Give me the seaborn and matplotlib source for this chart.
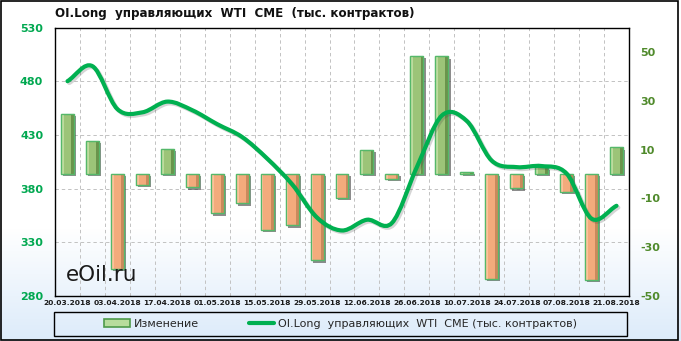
import numpy as np
import pandas as pd
import matplotlib
matplotlib.use("Agg")
import matplotlib.pyplot as plt
import matplotlib.patheffects as pe
import matplotlib.transforms as mtransforms
from matplotlib.path import Path
from matplotlib.patches import PathPatch, Rectangle, Patch
from matplotlib.lines import Line2D
from matplotlib.colors import to_rgb
import seaborn as sns

# ---------------- data ----------------
dates = ["20.03.2018", "27.03.2018", "03.04.2018", "10.04.2018", "17.04.2018",
         "24.04.2018", "01.05.2018", "08.05.2018", "15.05.2018", "22.05.2018",
         "29.05.2018", "05.06.2018", "12.06.2018", "19.06.2018", "26.06.2018",
         "03.07.2018", "10.07.2018", "17.07.2018", "24.07.2018", "31.07.2018",
         "07.08.2018", "14.08.2018", "21.08.2018"]
change = [24.6, 13.6, -39.0, -4.6, 10.2, -5.5, -16.2, -12.1, -23.0, -21.1,
          -35.4, -9.9, 9.8, -2.1, 48.5, 48.2, 1.0, -42.9, -5.9, 2.7,
          -7.2, -43.3, 10.9]
oi_long = [480, 494, 454, 451, 461, 453, 440, 428, 408, 384,
           353, 341, 351, 348, 400, 448, 443, 406, 400, 401,
           394, 352, 364]
left_ticks = [280, 330, 380, 430, 480, 530]
right_ticks = [-50, -30, -10, 10, 30, 50]
title = "OI.Long  управляющих  WTI  CME  (тыс. контрактов)"
bar_label = "Изменение"
line_label = "OI.Long  управляющих  WTI  CME (тыс. контрактов)"

W, H = 681, 341
sns.set_theme(style="white")
plt.rcParams['font.family'] = ['DejaVu Sans']

fig = plt.figure(figsize=(W / 100, H / 100), dpi=100)

# background gradient
bg = fig.add_axes([0, 0, 1, 1], zorder=-10)
rows = np.arange(H)
t = np.clip((rows - 228) / (H - 228), 0, 1)
top = np.array(to_rgb("#ffffff"))
bot = np.array(to_rgb("#dcebfa"))
grad = top[None, :] * (1 - t[:, None]) + bot[None, :] * t[:, None]
bg.imshow(grad[:, None, :], aspect="auto", extent=(0, 1, 0, 1), origin="upper")
bg.set_axis_off()

L, R, T, B = 55, 629, 27.5, 296
ax = fig.add_axes([L / W, 1 - B / H, (R - L) / W, (B - T) / H])
ax.patch.set_visible(False)
ax2 = ax.twinx()
ax3 = ax.twinx()

body = {"pos": "#9cc478", "neg": "#f3ab7c"}
light = {"pos": "#bcdc9e", "neg": "#f9c39a"}
dark = {"pos": "#6a944c", "neg": "#c98a5c"}

df = pd.DataFrame({"date": dates, "change": change})
df["sign"] = np.where(df["change"] >= 0, "pos", "neg")
sns.barplot(data=df, x="date", y="change", hue="sign", palette=body,
            dodge=False, legend=False, width=0.52, ax=ax2,
            edgecolor="#55b86a", linewidth=0.9, saturation=1)

shadow_tr = ax2.transData + mtransforms.ScaledTranslation(1.6 / 72, -1.6 / 72, fig.dpi_scale_trans)
for p in list(ax2.patches):
    h = p.get_height()
    if not np.isfinite(h) or h == 0:
        continue
    x0, w, y0 = p.get_x(), p.get_width(), p.get_y()
    key = "pos" if h > 0 else "neg"
    p.set_zorder(2.5)
    ax2.add_patch(Rectangle((x0, y0), w, h, facecolor="#303030", alpha=0.55, lw=0,
                            transform=shadow_tr, zorder=2.4))
    ax2.add_patch(Rectangle((x0, y0), w * 0.22, h, facecolor=light[key], lw=0, zorder=2.6))
    ax2.add_patch(Rectangle((x0 + w * 0.78, y0), w * 0.22, h, facecolor=dark[key], lw=0, zorder=2.6))
    ax2.add_patch(Rectangle((x0, y0), w, h, facecolor="none", edgecolor="#55b86a", lw=0.9, zorder=3))

# smooth line (Bezier through data points)
n = len(oi_long)
P = np.column_stack([np.arange(n, dtype=float), np.array(oi_long, dtype=float)])
tang = np.zeros_like(P)
tang[1:-1] = (P[2:] - P[:-2]) / 2
tang[0] = (P[1] - P[0])
tang[-1] = (P[-1] - P[-2])
verts = [tuple(P[0])]
codes = [Path.MOVETO]
for i in range(n - 1):
    verts += [tuple(P[i] + tang[i] / 3), tuple(P[i + 1] - tang[i + 1] / 3), tuple(P[i + 1])]
    codes += [Path.CURVE4] * 3
line_patch = PathPatch(Path(verts, codes), facecolor="none", edgecolor="#00b050",
                       lw=3.0, capstyle="round", joinstyle="round")
line_patch.set_path_effects([pe.SimpleLineShadow(offset=(1.3, -1.3), shadow_color="#404040", alpha=0.22),
                             pe.Normal()])
ax3.add_patch(line_patch)

# axes limits/ticks
for a in (ax, ax2, ax3):
    a.set_xlim(-0.5, n - 0.5)
ax.set_ylim(280, 530)
ax3.set_ylim(280, 530)
ax2.set_ylim(-50, 60)

ax.set_yticks(left_ticks)
ax.set_yticklabels([str(v) for v in left_ticks], color="#00a850", fontweight="bold", fontsize=8)
ax.tick_params(axis="y", length=0, pad=8.5)
ax2.set_yticks(right_ticks)
ax2.set_yticklabels([str(v) for v in right_ticks], color="#4f8a2b", fontweight="bold", fontsize=8)
ax2.tick_params(axis="y", length=0, pad=8)
ax3.set_yticks([])
ax2.set_ylabel("")
ax3.set_ylabel("")

ax.set_xticks(range(0, n, 2))
ax.set_xticklabels(dates[::2], fontsize=5.4, fontweight="bold", color="#1a1a1a")
ax.set_xticks(np.arange(0.5, n - 1, 1), minor=True)
ax.tick_params(axis="x", which="both", length=0, pad=3)
ax.set_xlabel("")
ax2.set_xlabel("")

ax.grid(False)
ax.yaxis.grid(True, linestyle=(0, (3.5, 3)), color="#c2c2c2", lw=0.7)
ax.xaxis.grid(True, which="minor", linestyle=(0, (3.5, 3)), color="#c2c2c2", lw=0.7)
ax.xaxis.grid(False, which="major")
ax2.grid(False)
ax3.grid(False)
for s in ax.spines.values():
    s.set_visible(True)
    s.set_color("black")
    s.set_linewidth(1.0)
for a in (ax2, ax3):
    for s in a.spines.values():
        s.set_visible(False)

# title and watermark
fig.text(55 / W, 1 - 14 / H, title, ha="left", va="center", fontsize=8.6,
         fontweight="bold", color="#111111")
fig.text(66 / W, 1 - 275 / H, "eOil.ru", ha="left", va="center", fontsize=15.5,
         color="#1a1a1a")

# legend
fig.add_artist(Rectangle((54 / W, 1 - 336 / H), (627 - 54) / W, (336 - 312) / H,
                         transform=fig.transFigure, facecolor="none",
                         edgecolor="black", lw=1.0))
handles = [Patch(facecolor="#b7dc9c", edgecolor="#4e9a4a", lw=1.2),
           Line2D([0], [0], color="#00b050", lw=3)]
fig.legend(handles, [bar_label, line_label], loc="center",
           bbox_to_anchor=((54 + 627) / 2 / W, 1 - 324 / H), ncol=2,
           frameon=False, fontsize=8, handlelength=2.3, handletextpad=0.35,
           columnspacing=4.5, borderpad=0)

# outer border
fig.add_artist(Rectangle((1 / W, 1 / H), 677 / W, 339 / H, transform=fig.transFigure,
                         facecolor="none", edgecolor="black", lw=1.2))

fig.savefig("out.png", dpi=100)
